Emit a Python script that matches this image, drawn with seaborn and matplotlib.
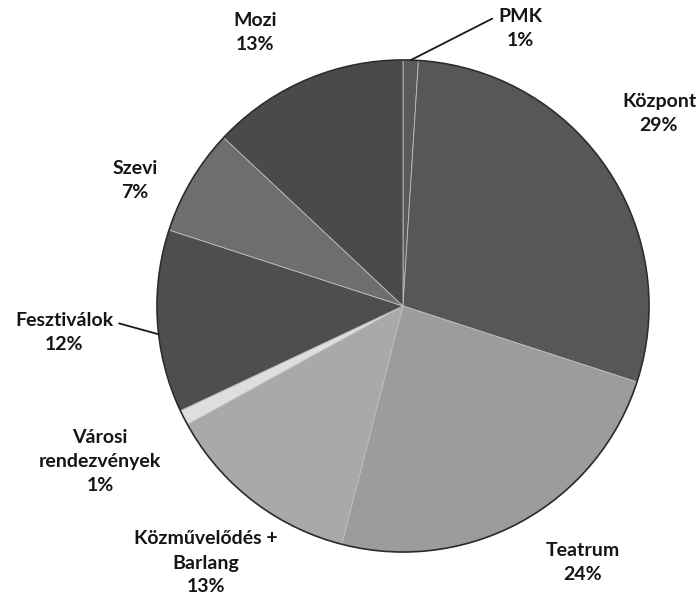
import numpy as np
import matplotlib.pyplot as plt
import seaborn as sns

# adatok
labels = ['PMK', 'Központ', 'Teatrum', 'Közművelődés +\nBarlang',
          'Városi\nrendezvények', 'Fesztiválok', 'Szevi', 'Mozi']
shares = [1, 29, 24, 13, 1, 12, 7, 13]
grays = ['#5a5a5a', '#575757', '#9c9c9c', '#a9a9a9',
         '#dedede', '#4e4e4e', '#6e6e6e', '#4a4a4a']

# címke helyek (kép pixel, bal-fent origó)
label_px = [(520, 28), (659, 113), (583, 563), (206, 563),
            (100, 461), (64, 332), (135, 180), (255, 32)]

sns.set_theme(style='white')
plt.rcParams['font.family'] = ['Lato', 'DejaVu Sans']

W, H, DPI = 700, 601, 100
cx, cy, R = 403, 306, 246

fig = plt.figure(figsize=(W / DPI, H / DPI), dpi=DPI)
ax = fig.add_axes([0, 0, 1, 1])

wedges, _ = ax.pie(shares, colors=sns.color_palette(grays), startangle=90,
                   counterclock=False, radius=1,
                   wedgeprops=dict(edgecolor='#bdbdbd', linewidth=0.6))
ax.add_patch(plt.Circle((0, 0), 1, fill=False, edgecolor='#2b2b2b', linewidth=1.2))

ax.set_xlim(-cx / R, (W - cx) / R)
ax.set_ylim((cy - H) / R, cy / R)
ax.set_aspect('auto')
ax.axis('off')


def to_data(px, py):
    return (px - cx) / R, (cy - py) / R


for w, lab, pct, (px, py) in zip(wedges, labels, shares, label_px):
    tx, ty = to_data(px, py)
    txt = f'{lab}\n{pct}%'
    style = dict(ha='center', va='center', fontsize=14, fontweight='bold',
                 color='#151515', linespacing=1.5)
    if lab in ('PMK', 'Fesztiválok'):
        mid = (w.theta1 + w.theta2) / 2
        if lab == 'Fesztiválok':
            mid += 3  # a vonal kicsit lejjebb fut be
        ang = np.deg2rad(mid)
        rel = (0, 0.8) if lab == 'PMK' else (1, 0.75)
        ax.annotate(txt, xy=(np.cos(ang), np.sin(ang)), xytext=(tx, ty),
                    arrowprops=dict(arrowstyle='-', color='#1a1a1a', lw=1.3,
                                    relpos=rel, shrinkA=2, shrinkB=0),
                    **style)
    else:
        ax.text(tx, ty, txt, **style)

fig.savefig('out.png', dpi=DPI, facecolor='white')
